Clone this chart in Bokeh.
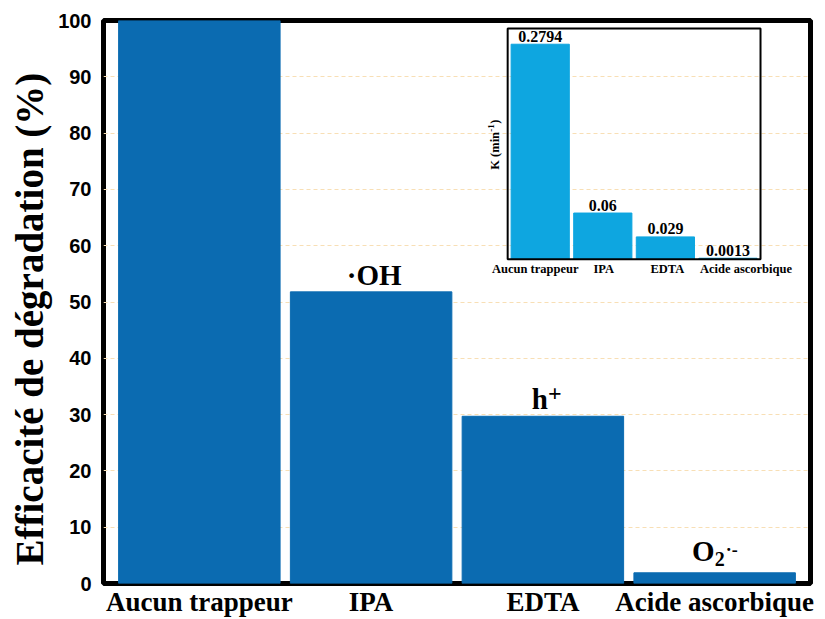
import math
from bokeh.plotting import figure
from bokeh.models import FixedTicker, Range1d, Title
from bokeh.core.properties import value
from bokeh.embed import file_html
from bokeh.resources import INLINE

# ---------------- data ----------------
CATEGORIES = ["Aucun trappeur", "IPA", "EDTA", "Acide ascorbique"]
EFFICIENCY = [100.0, 51.8, 29.7, 1.9]          # main chart (%)
RATE_K = [0.2794, 0.06, 0.029, 0.0013]         # inset K (min-1)
RATE_K_LABELS = ["0.2794", "0.06", "0.029", "0.0013"]
Y_TICKS = [0, 10, 20, 30, 40, 50, 60, 70, 80, 90, 100]
IDX = list(range(len(CATEGORIES)))

# ---------------- styles ----------------
MAIN_BLUE = "#0b6bb1"
INSET_BLUE = "#0ea6e0"
GRID_COLOR = "#f8dfb5"
SERIF = value("Liberation Serif")
SANS = "Liberation Sans"

MAIN_X = (-0.558, 3.558)
MAIN_Y = (0, 100)
INSET_X = (-0.52, 3.52)
INSET_Y = (0.0, 0.3)
# where the inset frame sits, in main-chart data units
INSET_BOX_X = (1.795, 3.267)
INSET_BOX_Y = (57.6, 98.6)

p = figure(width=825, height=619, output_backend="svg", toolbar_location=None,
           x_range=Range1d(*MAIN_X), y_range=Range1d(*MAIN_Y),
           min_border_top=20, min_border_right=15, min_border_left=101,
           min_border_bottom=0)
p.background_fill_color = "white"
p.border_fill_color = "white"
p.outline_line_color = "black"
p.outline_line_width = 5

# extra ranges for the inset so that INSET_X x INSET_Y maps to INSET_BOX
ax = (INSET_X[1] - INSET_X[0]) / (INSET_BOX_X[1] - INSET_BOX_X[0])
ay = (INSET_Y[1] - INSET_Y[0]) / (INSET_BOX_Y[1] - INSET_BOX_Y[0])
p.extra_x_ranges = {"ix": Range1d(INSET_X[0] + (MAIN_X[0] - INSET_BOX_X[0]) * ax,
                                  INSET_X[0] + (MAIN_X[1] - INSET_BOX_X[0]) * ax)}
p.extra_y_ranges = {"iy": Range1d(INSET_Y[0] + (MAIN_Y[0] - INSET_BOX_Y[0]) * ay,
                                  INSET_Y[0] + (MAIN_Y[1] - INSET_BOX_Y[0]) * ay)}

# ---------------- axes ----------------
xa = p.xaxis[0]
xa.ticker = FixedTicker(ticks=IDX)
xa.major_label_overrides = {i: c for i, c in zip(IDX, CATEGORIES)}
xa.major_label_text_font = "Liberation Serif"
xa.major_label_text_font_style = "bold"
xa.major_label_text_font_size = "27px"
xa.major_label_text_color = "black"
xa.major_label_standoff = 3
xa.axis_line_color = None
xa.major_tick_line_color = None
xa.minor_tick_line_color = None
xa.major_tick_out = 0
xa.major_tick_in = 0
xa.minor_tick_out = 0

ya = p.yaxis[0]
ya.ticker = FixedTicker(ticks=Y_TICKS)
ya.major_label_text_font = SANS
ya.major_label_text_font_style = "bold"
ya.major_label_text_font_size = "20px"
ya.major_label_text_color = "black"
ya.major_label_standoff = 12
ya.axis_line_color = None
ya.major_tick_line_color = None
ya.minor_tick_line_color = None
ya.major_tick_out = 0
ya.major_tick_in = 0
ya.minor_tick_out = 0

# y-axis title as a side title (shifted along the axis with offset)
p.add_layout(Title(text="Efficacité de dégradation (%)", align="left",
                   offset=18, vertical_align="bottom",
                   text_font="Liberation Serif", text_font_style="bold",
                   text_font_size="39px", text_color="black",
                   standoff=10), "left")

p.xgrid.visible = False
p.ygrid.grid_line_color = GRID_COLOR
p.ygrid.grid_line_dash = "4 3"
p.ygrid.grid_line_width = 1

# ---------------- main bars ----------------
p.vbar(x=IDX, top=EFFICIENCY, width=0.94, bottom=0,
       fill_color=MAIN_BLUE, line_color=MAIN_BLUE)

# species labels above bars (offsets in px, positive = down)
def tag(i, txt, size, align, dx, dy):
    p.text(x=[IDX[i]], y=[EFFICIENCY[i]], text=[txt], text_font=SERIF,
           text_font_style="bold", text_font_size=size, text_align=align,
           text_baseline="middle", x_offset=dx, y_offset=dy,
           text_color="black")

tag(1, "·OH", "29px", "center", 3, -17)
tag(2, "h", "29px", "right", 5, -17)
tag(2, "+", "24px", "left", 5, -23)
tag(3, "O", "29px", "right", 0, -22)
tag(3, "2", "20px", "left", 0, -14)
tag(3, "·-", "18px", "left", 11, -23)

# ---------------- inset ----------------
p.vbar(x=IDX, top=RATE_K, width=0.93, bottom=0,
       fill_color=INSET_BLUE, line_color=INSET_BLUE,
       x_range_name="ix", y_range_name="iy")
p.quad(left=[INSET_X[0]], right=[INSET_X[1]], bottom=[INSET_Y[0]], top=[INSET_Y[1]],
       fill_color=None, line_color="black", line_width=2,
       x_range_name="ix", y_range_name="iy")
p.text(x=IDX, y=RATE_K, text=RATE_K_LABELS, text_font=SERIF,
       text_font_style="bold", text_font_size="16px", text_align="center",
       text_baseline="middle", y_offset=-8, text_color="black",
       x_range_name="ix", y_range_name="iy")

LABEL_NUDGE_PX = [-5, 1, 2, 18]
p.text(x=IDX, y=[INSET_Y[0]] * len(IDX), text=CATEGORIES, text_font=SERIF,
       text_font_style="bold", text_font_size="12.5px", text_align="center",
       text_baseline="middle", x_offset=LABEL_NUDGE_PX, y_offset=10,
       text_color="black", x_range_name="ix", y_range_name="iy")

# inset y-axis title "K (min^-1)" built from pieces, rotated
ymid = (INSET_Y[0] + INSET_Y[1]) / 2
for txt, size, dx, dy in [("K (min", "12.5px", -13, 26),
                          ("-1", "9px", -17, -12),
                          (")", "12.5px", -13, -20)]:
    p.text(x=[INSET_X[0]], y=[ymid], text=[txt], text_font=SERIF,
           text_font_style="bold", text_font_size=size, text_align="left",
           text_baseline="middle", angle=math.pi / 2, x_offset=dx, y_offset=dy,
           text_color="black", x_range_name="ix", y_range_name="iy")

open("out.html", "w").write(file_html(p, INLINE))
